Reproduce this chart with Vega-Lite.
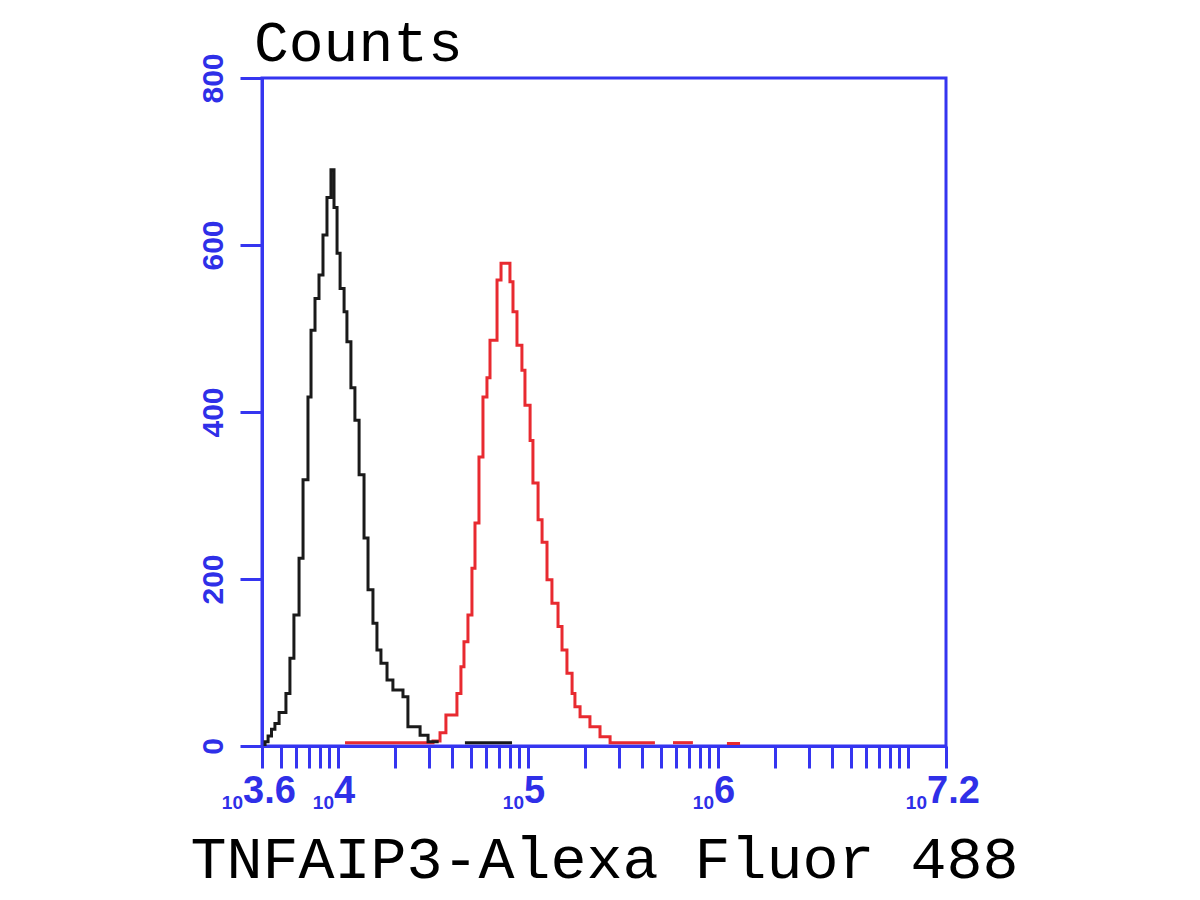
{
  "$schema": "https://vega.github.io/schema/vega-lite/v6.json",
  "width": 684,
  "height": 668,
  "autosize": "none",
  "padding": {"left": 262, "top": 78, "right": 254, "bottom": 154},
  "background": "white",
  "title": {"text": "Counts", "anchor": "start", "frame": "group", "font": "Liberation Mono", "fontSize": 58, "fontWeight": "normal", "color": "#000000", "offset": 4, "dx": -8, "dy": 24},
  "config": {"view": {"stroke": "#3535f0", "strokeWidth": 3}},
  "datasets": {
    "hist": [
      {"sample": "TNFAIP3", "segment": "r1", "log_intensity": 4.037, "count": 4},
      {"sample": "TNFAIP3", "segment": "r1", "log_intensity": 4.5, "count": 6},
      {"sample": "TNFAIP3", "segment": "r1", "log_intensity": 4.537, "count": 16},
      {"sample": "TNFAIP3", "segment": "r1", "log_intensity": 4.568, "count": 37},
      {"sample": "TNFAIP3", "segment": "r1", "log_intensity": 4.626, "count": 63},
      {"sample": "TNFAIP3", "segment": "r1", "log_intensity": 4.647, "count": 95},
      {"sample": "TNFAIP3", "segment": "r1", "log_intensity": 4.663, "count": 125},
      {"sample": "TNFAIP3", "segment": "r1", "log_intensity": 4.684, "count": 157},
      {"sample": "TNFAIP3", "segment": "r1", "log_intensity": 4.705, "count": 213},
      {"sample": "TNFAIP3", "segment": "r1", "log_intensity": 4.721, "count": 267},
      {"sample": "TNFAIP3", "segment": "r1", "log_intensity": 4.742, "count": 346},
      {"sample": "TNFAIP3", "segment": "r1", "log_intensity": 4.763, "count": 418},
      {"sample": "TNFAIP3", "segment": "r1", "log_intensity": 4.784, "count": 441},
      {"sample": "TNFAIP3", "segment": "r1", "log_intensity": 4.8, "count": 486},
      {"sample": "TNFAIP3", "segment": "r1", "log_intensity": 4.837, "count": 558},
      {"sample": "TNFAIP3", "segment": "r1", "log_intensity": 4.858, "count": 578},
      {"sample": "TNFAIP3", "segment": "r1", "log_intensity": 4.905, "count": 556},
      {"sample": "TNFAIP3", "segment": "r1", "log_intensity": 4.921, "count": 520},
      {"sample": "TNFAIP3", "segment": "r1", "log_intensity": 4.942, "count": 480},
      {"sample": "TNFAIP3", "segment": "r1", "log_intensity": 4.968, "count": 450},
      {"sample": "TNFAIP3", "segment": "r1", "log_intensity": 4.984, "count": 408},
      {"sample": "TNFAIP3", "segment": "r1", "log_intensity": 5.011, "count": 366},
      {"sample": "TNFAIP3", "segment": "r1", "log_intensity": 5.026, "count": 315},
      {"sample": "TNFAIP3", "segment": "r1", "log_intensity": 5.053, "count": 271},
      {"sample": "TNFAIP3", "segment": "r1", "log_intensity": 5.074, "count": 244},
      {"sample": "TNFAIP3", "segment": "r1", "log_intensity": 5.1, "count": 199},
      {"sample": "TNFAIP3", "segment": "r1", "log_intensity": 5.126, "count": 171},
      {"sample": "TNFAIP3", "segment": "r1", "log_intensity": 5.158, "count": 143},
      {"sample": "TNFAIP3", "segment": "r1", "log_intensity": 5.179, "count": 115},
      {"sample": "TNFAIP3", "segment": "r1", "log_intensity": 5.205, "count": 87},
      {"sample": "TNFAIP3", "segment": "r1", "log_intensity": 5.232, "count": 63},
      {"sample": "TNFAIP3", "segment": "r1", "log_intensity": 5.247, "count": 47},
      {"sample": "TNFAIP3", "segment": "r1", "log_intensity": 5.274, "count": 35},
      {"sample": "TNFAIP3", "segment": "r1", "log_intensity": 5.326, "count": 23},
      {"sample": "TNFAIP3", "segment": "r1", "log_intensity": 5.379, "count": 11},
      {"sample": "TNFAIP3", "segment": "r1", "log_intensity": 5.432, "count": 4},
      {"sample": "TNFAIP3", "segment": "r1", "log_intensity": 5.668, "count": 4},
      {"sample": "TNFAIP3", "segment": "r2", "log_intensity": 5.763, "count": 4},
      {"sample": "TNFAIP3", "segment": "r2", "log_intensity": 5.868, "count": 4},
      {"sample": "TNFAIP3", "segment": "r3", "log_intensity": 6.047, "count": 3},
      {"sample": "TNFAIP3", "segment": "r3", "log_intensity": 6.116, "count": 3},
      {"sample": "Control", "segment": "k1", "log_intensity": 3.612, "count": 0},
      {"sample": "Control", "segment": "k1", "log_intensity": 3.616, "count": 5},
      {"sample": "Control", "segment": "k1", "log_intensity": 3.632, "count": 12},
      {"sample": "Control", "segment": "k1", "log_intensity": 3.65, "count": 20},
      {"sample": "Control", "segment": "k1", "log_intensity": 3.668, "count": 27},
      {"sample": "Control", "segment": "k1", "log_intensity": 3.69, "count": 40},
      {"sample": "Control", "segment": "k1", "log_intensity": 3.726, "count": 63},
      {"sample": "Control", "segment": "k1", "log_intensity": 3.747, "count": 105},
      {"sample": "Control", "segment": "k1", "log_intensity": 3.768, "count": 157},
      {"sample": "Control", "segment": "k1", "log_intensity": 3.795, "count": 225},
      {"sample": "Control", "segment": "k1", "log_intensity": 3.816, "count": 319},
      {"sample": "Control", "segment": "k1", "log_intensity": 3.842, "count": 418},
      {"sample": "Control", "segment": "k1", "log_intensity": 3.858, "count": 498},
      {"sample": "Control", "segment": "k1", "log_intensity": 3.879, "count": 536},
      {"sample": "Control", "segment": "k1", "log_intensity": 3.9, "count": 564},
      {"sample": "Control", "segment": "k1", "log_intensity": 3.921, "count": 612},
      {"sample": "Control", "segment": "k1", "log_intensity": 3.942, "count": 657},
      {"sample": "Control", "segment": "k1", "log_intensity": 3.963, "count": 690},
      {"sample": "Control", "segment": "k1", "log_intensity": 3.979, "count": 645},
      {"sample": "Control", "segment": "k1", "log_intensity": 3.995, "count": 590},
      {"sample": "Control", "segment": "k1", "log_intensity": 4.011, "count": 548},
      {"sample": "Control", "segment": "k1", "log_intensity": 4.032, "count": 520},
      {"sample": "Control", "segment": "k1", "log_intensity": 4.047, "count": 484},
      {"sample": "Control", "segment": "k1", "log_intensity": 4.068, "count": 429},
      {"sample": "Control", "segment": "k1", "log_intensity": 4.089, "count": 390},
      {"sample": "Control", "segment": "k1", "log_intensity": 4.111, "count": 325},
      {"sample": "Control", "segment": "k1", "log_intensity": 4.137, "count": 249},
      {"sample": "Control", "segment": "k1", "log_intensity": 4.158, "count": 187},
      {"sample": "Control", "segment": "k1", "log_intensity": 4.184, "count": 147},
      {"sample": "Control", "segment": "k1", "log_intensity": 4.205, "count": 115},
      {"sample": "Control", "segment": "k1", "log_intensity": 4.226, "count": 99},
      {"sample": "Control", "segment": "k1", "log_intensity": 4.258, "count": 79},
      {"sample": "Control", "segment": "k1", "log_intensity": 4.289, "count": 67},
      {"sample": "Control", "segment": "k1", "log_intensity": 4.342, "count": 59},
      {"sample": "Control", "segment": "k1", "log_intensity": 4.368, "count": 23},
      {"sample": "Control", "segment": "k1", "log_intensity": 4.432, "count": 13},
      {"sample": "Control", "segment": "k1", "log_intensity": 4.474, "count": 5},
      {"sample": "Control", "segment": "k1", "log_intensity": 4.53, "count": 5},
      {"sample": "Control", "segment": "k2", "log_intensity": 4.668, "count": 4},
      {"sample": "Control", "segment": "k2", "log_intensity": 4.916, "count": 4}
    ],
    "ticklabels": [
      {"position": 3.6, "exponent": "3.6", "edge": true},
      {"position": 4, "exponent": "4", "edge": false},
      {"position": 5, "exponent": "5", "edge": false},
      {"position": 6, "exponent": "6", "edge": false},
      {"position": 7.2, "exponent": "7.2", "edge": true}
    ]
  },
  "layer": [
    {
      "data": {"name": "hist"},
      "mark": {"type": "line", "interpolate": "step-after", "strokeWidth": 3, "clip": true},
      "encoding": {
        "x": {
          "field": "log_intensity", "type": "quantitative",
          "scale": {"domain": [3.6, 7.2], "nice": false, "zero": false},
          "axis": {
            "title": "TNFAIP3-Alexa Fluor 488",
            "titleFont": "Liberation Mono", "titleFontSize": 60, "titleFontWeight": "normal", "titleColor": "#000000",
            "titleBaseline": "alphabetic", "titlePadding": 108,
            "labels": false, "labelOverlap": false, "grid": false, "tickCount": 60,
            "values": [3.6, 3.69897, 3.77815, 3.8451, 3.90309, 3.95424, 4, 4.30103, 4.47712, 4.60206, 4.69897, 4.77815, 4.8451, 4.90309, 4.95424, 5, 5.30103, 5.47712, 5.60206, 5.69897, 5.77815, 5.8451, 5.90309, 5.95424, 6, 6.30103, 6.47712, 6.60206, 6.69897, 6.77815, 6.8451, 6.90309, 6.95424, 7, 7.2],
            "tickSize": 22, "tickWidth": 3, "tickColor": "#3535f0",
            "domainColor": "#3535f0", "domainWidth": 3
          }
        },
        "y": {
          "field": "count", "type": "quantitative",
          "scale": {"domain": [0, 800], "nice": false},
          "axis": {
            "title": null, "grid": false,
            "values": [0, 200, 400, 600, 800],
            "tickSize": 22, "tickWidth": 3, "tickColor": "#3535f0",
            "domainColor": "#3535f0", "domainWidth": 3,
            "labelAngle": 270, "labelAlign": "center", "labelBaseline": "alphabetic",
            "labelPadding": 18, "labelFont": "Liberation Sans", "labelFontSize": 30, "labelFontWeight": "bold",
            "labelColor": "#2f2fe8", "labelOverlap": false
          }
        },
        "color": {
          "field": "sample", "type": "nominal",
          "scale": {"domain": ["TNFAIP3", "Control"], "range": ["#e82a30", "#1a1a1a"]},
          "legend": null
        },
        "detail": {"field": "segment", "type": "nominal"}
      }
    },
    {
      "data": {"name": "ticklabels"},
      "transform": [{"filter": "!datum.edge"}],
      "mark": {"type": "text", "text": "10", "align": "right", "baseline": "alphabetic", "dx": -4, "dy": 63, "font": "Liberation Sans", "fontSize": 19, "fontWeight": "bold", "color": "#2f2fe8"},
      "encoding": {
        "x": {"field": "position", "type": "quantitative"},
        "y": {"datum": 0, "type": "quantitative"}
      }
    },
    {
      "data": {"name": "ticklabels"},
      "transform": [{"filter": "!datum.edge"}],
      "mark": {"type": "text", "align": "left", "baseline": "alphabetic", "dx": -4, "dy": 57, "font": "Liberation Sans", "fontSize": 38, "fontWeight": "bold", "color": "#2f2fe8"},
      "encoding": {
        "x": {"field": "position", "type": "quantitative"},
        "y": {"datum": 0, "type": "quantitative"},
        "text": {"field": "exponent", "type": "nominal"}
      }
    },
    {
      "data": {"name": "ticklabels"},
      "transform": [{"filter": "datum.edge"}],
      "mark": {"type": "text", "text": "10", "align": "right", "baseline": "alphabetic", "dx": -19, "dy": 63, "font": "Liberation Sans", "fontSize": 19, "fontWeight": "bold", "color": "#2f2fe8"},
      "encoding": {
        "x": {"field": "position", "type": "quantitative"},
        "y": {"datum": 0, "type": "quantitative"}
      }
    },
    {
      "data": {"name": "ticklabels"},
      "transform": [{"filter": "datum.edge"}],
      "mark": {"type": "text", "align": "left", "baseline": "alphabetic", "dx": -19, "dy": 57, "font": "Liberation Sans", "fontSize": 38, "fontWeight": "bold", "color": "#2f2fe8"},
      "encoding": {
        "x": {"field": "position", "type": "quantitative"},
        "y": {"datum": 0, "type": "quantitative"},
        "text": {"field": "exponent", "type": "nominal"}
      }
    }
  ]
}
